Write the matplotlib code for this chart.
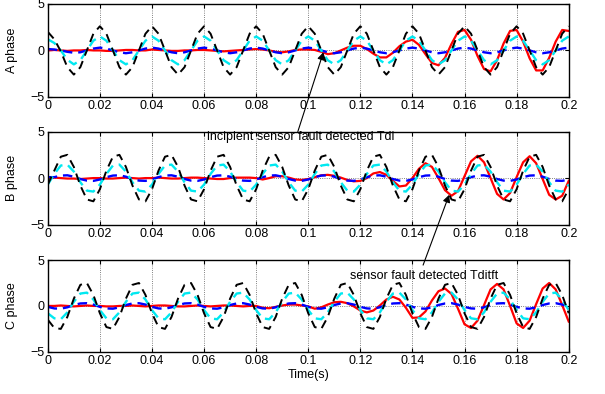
import numpy as np
import matplotlib
matplotlib.use("Agg")
import matplotlib.pyplot as plt
from matplotlib.ticker import FormatStrFormatter

plt.rcParams['font.family'] = ['Liberation Sans', 'DejaVu Sans']
plt.rcParams['font.size'] = 9

# sample times, 0.0025 s apart
t = np.linspace(0, 0.2, 81)

# ---- A phase ----
a_black = [2.0, 1.2, -0.1, -1.8, -2.6, -1.8, 0.0, 1.8,
           2.6, 1.8, 0.0, -1.8, -2.6, -1.8, 0.0, 1.8,
           2.6, 1.8, 0.0, -1.8, -2.6, -1.8, 0.0, 1.8,
           2.6, 1.8, 0.0, -1.8, -2.6, -1.8, 0.0, 1.8,
           2.6, 1.8, 0.0, -1.8, -2.6, -1.8, 0.0, 1.8,
           2.6, 1.8, 0.0, -1.8, -2.6, -1.8, 0.0, 1.8,
           2.6, 1.8, 0.0, -1.8, -2.6, -1.8, 0.0, 1.8,
           2.6, 1.8, 0.0, -1.8, -2.6, -1.8, 0.0, 1.8,
           2.6, 1.8, 0.0, -1.8, -2.6, -1.8, 0.0, 1.8,
           2.6, 1.8, 0.0, -1.8, -2.6, -1.8, 0.0, 1.8,
           2.6]
a_cyan = [1.2, 0.8, 0.0, -1.0, -1.5, -1.05, 0.0, 1.05,
          1.5, 1.05, 0.0, -1.05, -1.5, -1.05, 0.0, 1.05,
          1.5, 1.05, 0.0, -1.05, -1.5, -1.05, 0.0, 1.05,
          1.5, 1.05, 0.0, -1.05, -1.5, -1.05, 0.0, 1.05,
          1.5, 1.05, 0.0, -1.05, -1.5, -1.05, 0.0, 1.05,
          1.5, 1.05, 0.0, -1.05, -1.5, -1.05, 0.0, 1.05,
          1.5, 1.05, 0.0, -1.05, -1.5, -1.05, 0.0, 1.05,
          1.5, 1.05, 0.0, -1.05, -1.5, -1.05, 0.0, 1.05,
          1.5, 1.05, 0.0, -1.05, -1.5, -1.05, 0.0, 1.05,
          1.5, 1.05, 0.0, -1.05, -1.5, -1.05, 0.0, 1.05,
          1.5]
a_blue = [0.15, 0.1, 0.0, -0.15, -0.25, -0.2, 0.0, 0.2,
          0.3, 0.2, 0.0, -0.2, -0.3, -0.2, 0.0, 0.2,
          0.3, 0.2, 0.0, -0.2, -0.3, -0.2, 0.0, 0.2,
          0.3, 0.2, 0.0, -0.2, -0.3, -0.2, 0.0, 0.2,
          0.3, 0.2, 0.0, -0.2, -0.3, -0.2, 0.0, 0.2,
          0.3, 0.2, 0.0, -0.2, -0.3, -0.2, 0.0, 0.2,
          0.3, 0.2, 0.0, -0.2, -0.3, -0.2, 0.0, 0.2,
          0.3, 0.2, 0.0, -0.2, -0.3, -0.2, 0.0, 0.2,
          0.3, 0.2, 0.0, -0.2, -0.3, -0.2, 0.0, 0.2,
          0.3, 0.2, 0.0, -0.2, -0.3, -0.2, 0.0, 0.2,
          0.3]
a_red = [0.0, 0.05, 0.0, -0.05, 0.0, 0.0, 0.05, 0.0,
         0.0, -0.05, -0.05, 0.0, 0.05, 0.05, 0.0, 0.0,
         0.1, 0.05, 0.0, -0.05, -0.05, 0.0, 0.0, 0.05,
         0.05, 0.0, -0.05, -0.1, -0.05, 0.0, 0.05, 0.1,
         0.15, 0.1, 0.0, -0.15, -0.2, -0.1, 0.05, 0.1,
         0.1, 0.05, -0.15, -0.4, -0.3, 0.0, 0.3, 0.5,
         0.5, 0.15, -0.35, -0.75, -0.75, -0.25, 0.45, 0.95,
         1.15, 0.6, -0.4, -1.35, -1.6, -0.8, 0.7, 2.0,
         2.2, 1.15, -0.6, -2.0, -2.25, -1.05, 0.75, 2.1,
         2.2, 0.95, -0.85, -2.15, -2.15, -0.8, 0.95, 2.2,
         2.1]

# ---- B phase ----
b_black = [-0.7, 0.8, 2.3, 2.5, 1.2, -0.8, -2.3, -2.5,
           -1.2, 0.8, 2.3, 2.5, 1.2, -0.8, -2.3, -2.5,
           -1.2, 0.8, 2.3, 2.5, 1.2, -0.8, -2.3, -2.5,
           -1.2, 0.8, 2.3, 2.5, 1.2, -0.8, -2.3, -2.5,
           -1.2, 0.8, 2.3, 2.5, 1.2, -0.8, -2.3, -2.5,
           -1.2, 0.8, 2.3, 2.5, 1.2, -0.8, -2.3, -2.5,
           -1.2, 0.8, 2.3, 2.5, 1.2, -0.8, -2.3, -2.5,
           -1.2, 0.8, 2.3, 2.5, 1.2, -0.8, -2.3, -2.5,
           -1.2, 0.8, 2.3, 2.5, 1.2, -0.8, -2.3, -2.5,
           -1.2, 0.8, 2.3, 2.5, 1.2, -0.8, -2.3, -2.5,
           -1.2]
b_cyan = [-0.7, 0.45, 1.35, 1.45, 0.7, -0.45, -1.35, -1.45,
          -0.7, 0.45, 1.35, 1.45, 0.7, -0.45, -1.35, -1.45,
          -0.7, 0.45, 1.35, 1.45, 0.7, -0.45, -1.35, -1.45,
          -0.7, 0.45, 1.35, 1.45, 0.7, -0.45, -1.35, -1.45,
          -0.7, 0.45, 1.35, 1.45, 0.7, -0.45, -1.35, -1.45,
          -0.7, 0.45, 1.35, 1.45, 0.7, -0.45, -1.35, -1.45,
          -0.7, 0.45, 1.35, 1.45, 0.7, -0.45, -1.35, -1.45,
          -0.7, 0.45, 1.35, 1.45, 0.7, -0.45, -1.35, -1.45,
          -0.7, 0.45, 1.35, 1.45, 0.7, -0.45, -1.35, -1.45,
          -0.7, 0.45, 1.35, 1.45, 0.7, -0.45, -1.35, -1.45,
          -0.7]
b_blue = [0.1, 0.1, 0.27, 0.3, 0.15, -0.1, -0.27, -0.3,
          -0.15, 0.1, 0.27, 0.3, 0.15, -0.1, -0.27, -0.3,
          -0.15, 0.1, 0.27, 0.3, 0.15, -0.1, -0.27, -0.3,
          -0.15, 0.1, 0.27, 0.3, 0.15, -0.1, -0.27, -0.3,
          -0.15, 0.1, 0.27, 0.3, 0.15, -0.1, -0.27, -0.3,
          -0.15, 0.1, 0.27, 0.3, 0.15, -0.1, -0.27, -0.3,
          -0.15, 0.1, 0.27, 0.3, 0.15, -0.1, -0.27, -0.3,
          -0.15, 0.1, 0.27, 0.3, 0.15, -0.1, -0.27, -0.3,
          -0.15, 0.1, 0.27, 0.3, 0.15, -0.1, -0.27, -0.3,
          -0.15, 0.1, 0.27, 0.3, 0.15, -0.1, -0.27, -0.3,
          -0.15]
b_red = [0.0, 0.05, 0.0, -0.05, -0.05, -0.1, -0.05, 0.0,
         0.0, -0.05, -0.05, 0.0, 0.05, 0.0, -0.05, 0.0,
         0.0, 0.05, 0.0, -0.05, -0.05, 0.0, 0.05, 0.05,
         0.0, -0.05, -0.1, -0.1, 0.0, 0.05, 0.05, 0.05,
         0.0, -0.15, 0.0, 0.2, 0.2, 0.05, -0.15, -0.2,
         -0.1, 0.1, 0.3, 0.35, 0.25, 0.05, -0.2, -0.35,
         -0.3, 0.0, 0.5, 0.65, 0.35, -0.3, -0.9, -0.8,
         0.0, 1.0, 1.6, 1.2, 0.0, -1.3, -1.9, -1.4,
         0.2, 1.8, 2.4, 1.7, 0.0, -1.7, -2.3, -1.6,
         0.1, 1.7, 2.35, 1.6, -0.1, -1.8, -2.3, -1.9,
         -0.3]

# ---- C phase ----
c_black = [-1.5, -2.4, -2.5, -1.2, 0.8, 2.3, 2.5, 1.2,
           -0.8, -2.3, -2.5, -1.2, 0.8, 2.3, 2.5, 1.2,
           -0.8, -2.3, -2.5, -1.2, 0.8, 2.3, 2.5, 1.2,
           -0.8, -2.3, -2.5, -1.2, 0.8, 2.3, 2.5, 1.2,
           -0.8, -2.3, -2.5, -1.2, 0.8, 2.3, 2.5, 1.2,
           -0.8, -2.3, -2.5, -1.2, 0.8, 2.3, 2.5, 1.2,
           -0.8, -2.3, -2.5, -1.2, 0.8, 2.3, 2.5, 1.2,
           -0.8, -2.3, -2.5, -1.2, 0.8, 2.3, 2.5, 1.2,
           -0.8, -2.3, -2.5, -1.2, 0.8, 2.3, 2.5, 1.2,
           -0.8, -2.3, -2.5, -1.2, 0.8, 2.3, 2.5, 1.2,
           -0.8]
c_cyan = [-0.8, -1.35, -1.45, -0.7, 0.45, 1.35, 1.45, 0.7,
          -0.45, -1.35, -1.45, -0.7, 0.45, 1.35, 1.45, 0.7,
          -0.45, -1.35, -1.45, -0.7, 0.45, 1.35, 1.45, 0.7,
          -0.45, -1.35, -1.45, -0.7, 0.45, 1.35, 1.45, 0.7,
          -0.45, -1.35, -1.45, -0.7, 0.45, 1.35, 1.45, 0.7,
          -0.45, -1.35, -1.45, -0.7, 0.45, 1.35, 1.45, 0.7,
          -0.45, -1.35, -1.45, -0.7, 0.45, 1.35, 1.45, 0.7,
          -0.45, -1.35, -1.45, -0.7, 0.45, 1.35, 1.45, 0.7,
          -0.45, -1.35, -1.45, -0.7, 0.45, 1.35, 1.45, 0.7,
          -0.45, -1.35, -1.45, -0.7, 0.45, 1.35, 1.45, 0.7,
          -0.45]
c_blue = [-0.1, -0.27, -0.3, -0.15, 0.1, 0.27, 0.3, 0.15,
          -0.1, -0.27, -0.3, -0.15, 0.1, 0.27, 0.3, 0.15,
          -0.1, -0.27, -0.3, -0.15, 0.1, 0.27, 0.3, 0.15,
          -0.1, -0.27, -0.3, -0.15, 0.1, 0.27, 0.3, 0.15,
          -0.1, -0.27, -0.3, -0.15, 0.1, 0.27, 0.3, 0.15,
          -0.1, -0.27, -0.3, -0.15, 0.1, 0.27, 0.3, 0.15,
          -0.1, -0.27, -0.3, -0.15, 0.1, 0.27, 0.3, 0.15,
          -0.1, -0.27, -0.3, -0.15, 0.1, 0.27, 0.3, 0.15,
          -0.1, -0.27, -0.3, -0.15, 0.1, 0.27, 0.3, 0.15,
          -0.1, -0.27, -0.3, -0.15, 0.1, 0.27, 0.3, 0.15,
          -0.1]
c_red = [0.0, 0.0, 0.05, 0.0, -0.05, 0.0, 0.05, 0.0,
         0.0, -0.05, -0.05, 0.0, 0.0, 0.05, 0.0, -0.05,
         0.0, 0.05, 0.05, 0.0, -0.05, -0.05, 0.0, 0.05,
         0.0, -0.05, 0.0, 0.05, 0.05, 0.0, -0.05, 0.0,
         0.0, -0.2, -0.25, -0.1, 0.05, 0.15, 0.15, 0.05,
         -0.05, -0.3, -0.15, 0.15, 0.4, 0.45, 0.3, -0.05,
         -0.5, -0.7, -0.5, 0.05, 0.7, 1.0, 0.7, -0.2,
         -1.3, -1.25, -0.6, 0.6, 1.6, 1.9, 1.3, -0.3,
         -2.0, -2.4, -1.6, 0.1, 1.8, 2.4, 1.8, 0.0,
         -1.9, -2.4, -1.6, 0.2, 1.9, 2.5, 1.8, 0.1,
         -1.7]

phases = [
    ("A phase", a_black, a_cyan, a_blue, a_red),
    ("B phase", b_black, b_cyan, b_blue, b_red),
    ("C phase", c_black, c_cyan, c_blue, c_red),
]

fig = plt.figure(figsize=(6.05, 3.94), dpi=100)
boxes = [[0.079, 0.754, 0.861, 0.236],
         [0.079, 0.430, 0.861, 0.236],
         [0.079, 0.107, 0.861, 0.233]]

axes = []
for box, (name, blk, cyn, blu, red) in zip(boxes, phases):
    ax = fig.add_axes(box)
    ax.plot(t, red, '-', color='#ff0000', lw=1.6)
    ax.plot(t, blu, '--', color='#0000ff', lw=1.7, dashes=(4, 2.5))
    ax.plot(t, cyn, '--', color='#00e8f0', lw=1.7, dashes=(4, 2.5))
    ax.plot(t, blk, '--', color='k', lw=1.4, dashes=(4.5, 3))
    ax.set_xlim(0, 0.2)
    ax.set_ylim(-5, 5)
    ax.set_xticks(np.arange(0, 0.201, 0.02))
    ax.set_yticks([-5, 0, 5])
    ax.xaxis.set_major_formatter(FormatStrFormatter('%g'))
    ax.grid(True, linestyle=':', color='0.35', lw=0.6)
    ax.tick_params(direction='in', top=True, right=True, length=3, pad=2.5)
    for s in ax.spines.values():
        s.set_linewidth(1.0)
    ax.set_ylabel(name)
    ax.yaxis.set_label_coords(-0.057, 0.5)
    axes.append(ax)

ax1, ax2, ax3 = axes
ax3.set_xlabel("Time(s)", labelpad=1)

arrow = dict(arrowstyle='-|>', color='k', lw=0.8, mutation_scale=11,
             shrinkA=0, shrinkB=0)

ax2.text(0.061, 4.46, "incipient sensor fault detected Tdi",
         ha='left', va='center')
ax2.annotate('', xy=(0.1058, -0.2), xycoords=ax1.transData,
             xytext=(0.096, 5.0), textcoords=ax2.transData,
             arrowprops=arrow)

ax3.text(0.116, 3.3, "sensor fault detected Tditft",
         ha='left', va='center')
ax3.annotate('', xy=(0.1541, -1.8), xycoords=ax2.transData,
             xytext=(0.1441, 4.45), textcoords=ax3.transData,
             arrowprops=arrow)

fig.savefig("out.png", dpi=100)
